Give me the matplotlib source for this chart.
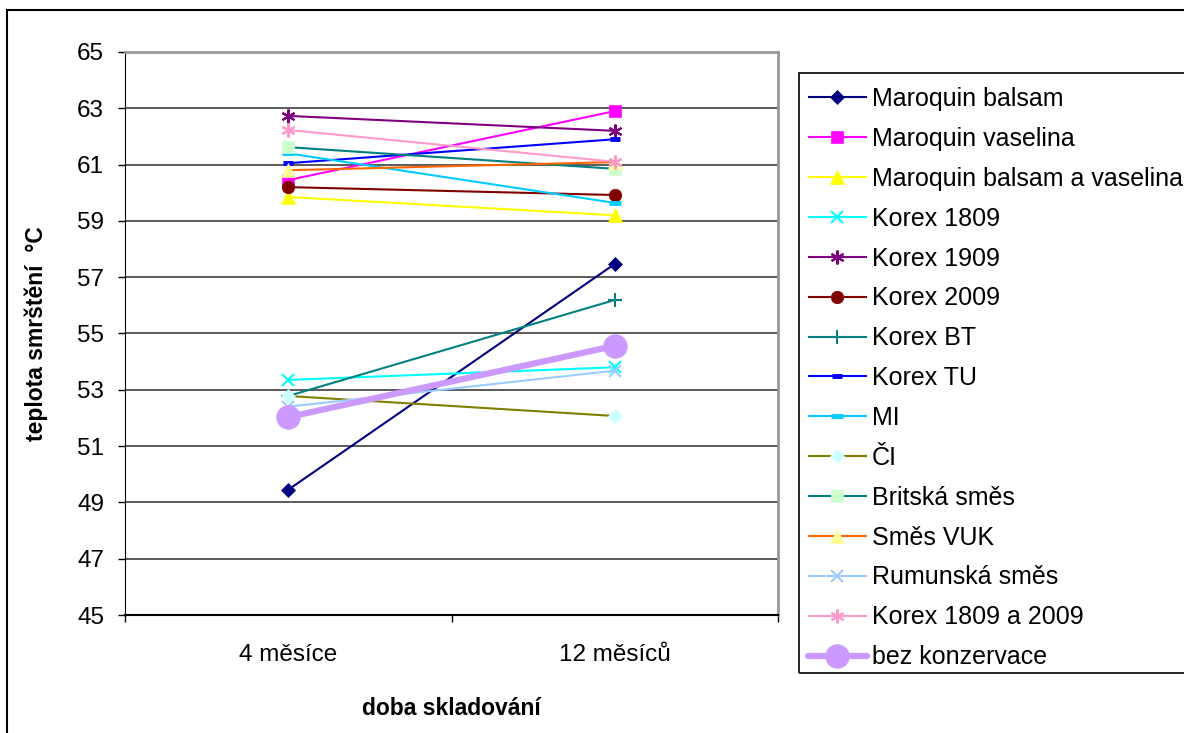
import numpy as np
import matplotlib
matplotlib.use('Agg')
import matplotlib.pyplot as plt
from matplotlib.patches import Rectangle

# Font setup (Arial-like, Czech diacritics)
plt.rcParams['font.family'] = ['Liberation Sans', 'DejaVu Sans']
plt.rcParams['axes.unicode_minus'] = False

# Data: shrinkage temperature after storage
periods = ['4 měsíce', '12 měsíců']

maroquin_balsam = [49.45, 57.47]
maroquin_vaselina = [60.45, 62.9]
maroquin_balsam_vaselina = [59.85, 59.2]
korex_1809 = [53.35, 53.8]
korex_1909 = [62.73, 62.2]
korex_2009 = [60.2, 59.92]
korex_bt = [52.78, 56.19]
korex_tu = [61.05, 61.9]
mi = [61.4, 59.64]
ci = [52.78, 52.07]
britska_smes = [61.62, 60.85]
smes_vuk = [60.8, 61.09]
rumunska_smes = [52.4, 53.68]
korex_1809_2009 = [62.23, 61.1]
bez_konzervace = [52.03, 54.56]

# label, values, line colour, marker, marker face, marker size, line width
series = [
    ('Maroquin balsam', maroquin_balsam, '#000080', 'D', '#000080', 7, 1.5),
    ('Maroquin vaselina', maroquin_vaselina, '#FF00FF', 's', '#FF00FF', 8, 1.5),
    ('Maroquin balsam a vaselina', maroquin_balsam_vaselina, '#FFFF00', '^', '#FFFF00', 10, 1.5),
    ('Korex 1809', korex_1809, '#00FFFF', 'x', '#00FFFF', 9, 1.5),
    ('Korex 1909', korex_1909, '#800080', (6, 2, 0), '#800080', 10, 1.5),
    ('Korex 2009', korex_2009, '#800000', 'o', '#800000', 9, 1.5),
    ('Korex BT', korex_bt, '#008080', '+', '#008080', 10, 1.5),
    ('Korex TU', korex_tu, '#0000FF', '_', '#0000FF', 7, 1.5),
    ('MI', mi, '#00CCFF', '_', '#00CCFF', 9, 1.5),
    ('ČI', ci, '#808000', 'D', '#CCFFFF', 7, 1.5),
    ('Britská směs', britska_smes, '#008080', 's', '#CCFFCC', 8, 1.5),
    ('Směs VUK', smes_vuk, '#FF6600', '^', '#FFFF99', 10, 1.5),
    ('Rumunská směs', rumunska_smes, '#99CCFF', 'x', '#99CCFF', 9, 1.5),
    ('Korex 1809 a 2009', korex_1809_2009, '#FF99CC', (6, 2, 0), '#FF99CC', 10, 1.5),
    ('bez konzervace', bez_konzervace, '#CC99FF', 'o', '#CC99FF', 17, 4.5),
]

W, H = 1184, 733
fig = plt.figure(figsize=(W / 100, H / 100), dpi=100)
fig.patch.set_facecolor('white')

# outer chart frame (runs off the right and bottom edges)
fig.patches.append(Rectangle((7 / W, -0.1), 1.2, 1 - 10 / H + 0.1,
                             transform=fig.transFigure, fill=False,
                             edgecolor='black', linewidth=1.5, zorder=0))
# legend box (runs off the right edge)
fig.patches.append(Rectangle((799 / W, 1 - 673 / H), 0.5, 600 / H,
                             transform=fig.transFigure, fill=False,
                             edgecolor='black', linewidth=1.2, zorder=0))

ax = fig.add_axes([125 / W, 1 - 615 / H, 653 / W, 563 / H])
x = np.arange(len(periods))

for i, (label, vals, col, mk, face, ms, lw) in enumerate(series):
    thick = mk in ('x', '+', '_') or isinstance(mk, tuple)
    mew = 3.5 if mk == '_' else (1.5 if thick else 0.5)
    ax.plot(x, vals, color=col, linewidth=lw, marker=mk, markersize=ms,
            markerfacecolor=face, markeredgecolor=face, markeredgewidth=mew,
            label=label, zorder=3 + i, clip_on=False,
            solid_capstyle='round' if lw > 3 else 'butt')

ax.set_xlim(-0.5, 1.5)
ax.set_ylim(45, 65)
ax.set_yticks(np.arange(45, 66, 2))
ax.yaxis.grid(True, color='#404040', linewidth=1.2)
ax.set_axisbelow(True)

# category boundary ticks + centred labels
ax.set_xticks([-0.5, 0.5, 1.5])
ax.set_xticklabels([])
ax.set_xticks(x, minor=True)
ax.set_xticklabels(periods, minor=True)
ax.tick_params(axis='x', which='major', direction='out', length=5, width=1, color='black')
ax.tick_params(axis='x', which='minor', length=0, pad=21, labelsize=17.5)
ax.tick_params(axis='y', direction='out', length=5, width=1, pad=10, labelsize=17.5)

for side in ('top', 'right'):
    ax.spines[side].set_color('#999999')
    ax.spines[side].set_linewidth(2)
ax.spines['left'].set_color('black')
ax.spines['bottom'].set_color('black')
ax.spines['bottom'].set_linewidth(1.5)

ax.set_ylabel('teplota smrštění  °C', fontsize=16.5, fontweight='bold')
ax.yaxis.set_label_coords(-0.118, 0.5)
ax.set_xlabel('doba skladování', fontsize=16.5, fontweight='bold')
ax.xaxis.set_label_coords(0.5, -0.145)

leg = fig.legend(loc='upper left', bbox_to_anchor=(808 / W, 1 - 87 / H),
                 fontsize=18, frameon=False, borderpad=0,
                 handlelength=2.35, handletextpad=0.2,
                 labelspacing=0.635, borderaxespad=0)

fig.savefig('out.png', dpi=100)
